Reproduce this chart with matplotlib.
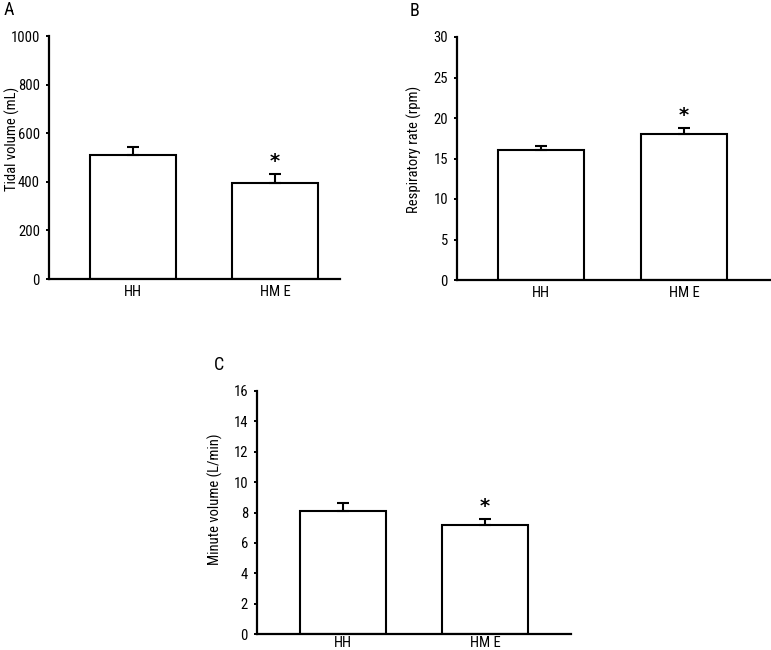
import matplotlib
matplotlib.use("Agg")
import matplotlib.pyplot as plt

groups = ["HH", "HM E"]

tidal = [512, 397]
tidal_err = [33, 35]
resp = [16.0, 18.0]
resp_err = [0.5, 0.8]
minute = [8.1, 7.15]
minute_err = [0.5, 0.45]

plt.rcParams["font.family"] = ["Roboto Condensed", "DejaVu Sans"]
plt.rcParams["font.size"] = 10.5

fig = plt.figure(figsize=(7.71, 6.5), dpi=100)
W, H = 771.0, 650.0


def panel(rect, vals, errs, ylim, yticks, ylabel, xlim, label_xy, xpad):
    l, t, r, b = rect
    ax = fig.add_axes([l / W, 1 - b / H, (r - l) / W, (b - t) / H])
    x = [0, 1]
    ax.bar(x, vals, width=0.6, color="white", edgecolor="black", linewidth=1.5, zorder=2)
    ax.errorbar(x, vals, yerr=[[0, 0], errs], fmt="none", ecolor="black",
                elinewidth=1.5, capsize=4, capthick=1.5, zorder=3)
    ax.annotate("*", (1, vals[1] + errs[1]), xytext=(0, 2), textcoords="offset points",
                ha="center", va="bottom", fontsize=14, fontweight="bold",
                family="DejaVu Sans")
    ax.set_xlim(*xlim)
    ax.set_ylim(*ylim)
    ax.set_yticks(yticks)
    ax.set_xticks(x)
    ax.set_xticklabels(groups)
    ax.tick_params(axis="x", length=0, pad=xpad)
    ax.tick_params(axis="y", length=2.5, width=1.4, direction="out", pad=4)
    for s in ["top", "right"]:
        ax.spines[s].set_visible(False)
    for s in ["left", "bottom"]:
        ax.spines[s].set_linewidth(1.6)
    ax.set_ylabel(ylabel)
    ax.yaxis.set_label_coords(*label_xy)
    return ax


panel((49, 36, 340, 279), tidal, tidal_err, (0, 1000), range(0, 1001, 200),
      "Tidal volume (mL)", (-0.592, 1.458), (-0.10, 0.576), 4)
panel((457, 37, 770, 280), resp, resp_err, (0, 30), range(0, 31, 5),
      "Respiratory rate (rpm)", (-0.587, 1.60), (-0.112, 0.539), 4)
panel((257, 391, 571, 634), minute, minute_err, (0, 16), range(0, 17, 2),
      "Minute volume (L/min)", (-0.606, 1.606), (-0.108, 0.556), 1.5)

fig.text(4 / W, 1 - 10 / H, "A", fontsize=13, va="center", ha="left")
fig.text(410 / W, 1 - 11 / H, "B", fontsize=13, va="center", ha="left")
fig.text(214 / W, 1 - 365 / H, "C", fontsize=13, va="center", ha="left")

fig.savefig("out.png", dpi=100)
